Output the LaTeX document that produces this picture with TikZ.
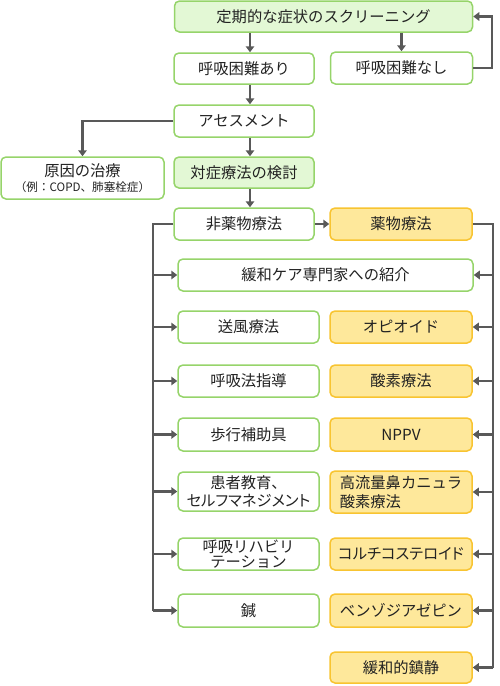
\documentclass[tikz,border=0pt]{standalone}
\usepackage{fontspec}
\setmainfont{Noto Sans CJK JP}
\newfontfamily\paltfont[RawFeature=+palt]{Noto Sans CJK JP}
\usetikzlibrary{arrows.meta,calc}
\definecolor{gborder}{HTML}{96D46A}
\definecolor{gfill}{HTML}{E3F8D5}
\definecolor{yborder}{HTML}{F8C431}
\definecolor{yfill}{HTML}{FEE89B}
\definecolor{arrc}{HTML}{595959}
\definecolor{txt}{HTML}{222222}
\begin{document}
\begin{tikzpicture}[x=1pt,y=-1pt,
 box/.style={draw=gborder, fill=white, line width=1.5pt, rounded corners=5pt, inner sep=0pt, align=center, text=txt, font=\fontsize{15.3}{17.5}\selectfont, minimum height=32pt},
 gbox/.style={box, fill=gfill},
 ybox/.style={box, draw=yborder, fill=yfill},
 lw/.style={minimum width=141pt},
 rw/.style={minimum width=142pt},
 conn/.style={draw=arrc, line width=2.6pt},
 arr/.style={conn, -{Triangle[length=6pt,width=8.5pt]}}]
\useasboundingbox (0,0) rectangle (500,686);
% top part
\node[gbox, minimum width=298pt, minimum height=31pt] (scr) at (323.5,16.5) {定期的な症状のスクリーニング};
\node[box, minimum width=140pt, minimum height=31pt] (ari) at (244,68.5) {呼吸困難あり};
\node[box, rw] (nashi) at (401.5,68) {呼吸困難なし};
\node[box, minimum width=140pt] (asm) at (244,121) {アセスメント};
\node[box, minimum width=163pt, minimum height=42pt] (gen) at (82.5,178) {原因の治療\\[-3pt]{\fontsize{11.6}{13}\selectfont （例：COPD、肺塞栓症）}};
\node[gbox, minimum width=140pt, minimum height=31pt] (tai) at (244,172.5) {対症療法の検討};
\node[box, minimum width=140pt] (hiy) at (244,224) {非薬物療法};
\node[ybox, rw] (yak) at (401,224) {薬物療法};
% rows
\node[box, minimum width=295pt] (kanwa) at (325.5,275) {緩和ケア専門家への紹介};
\node[box, lw] (soufu) at (248.5,327) {送風療法};
\node[ybox, rw] (opi) at (401,327) {オピオイド};
\node[box, lw] (kokyu) at (248.5,381) {呼吸法指導};
\node[ybox, rw] (sanso) at (401,381) {酸素療法};
\node[box, lw, minimum height=33pt] (hoko) at (248.5,434.5) {歩行補助具};
\node[ybox, rw, minimum height=33pt] (nppv) at (401,434.5) {NPPV};
\node[box, lw, minimum height=39pt] (kanja) at (248.5,491.5) {患者教育、\\{\paltfont セルフマネジメント}};
\node[ybox, rw, minimum height=42pt, align=left] (koryu) at (401,492) {高流量鼻カニュラ\\[1pt]酸素療法};
\node[box, lw] (riha) at (248.5,554) {呼吸リハビリ\\[-2pt]テーション};
\node[ybox, rw] (cort) at (401,554) {\paltfont コルチコステロイド};
\node[box, lw, minimum height=33pt] (hari) at (248.5,610.5) {鍼};
\node[ybox, rw, minimum height=33pt] (benzo) at (401,610.5) {ベンゾジアゼピン};
\node[ybox, rw, minimum height=31pt] (chinsei) at (401,667.5) {緩和的鎮静};
% helper coordinates
\coordinate (cx) at (250,0);
\coordinate (nx) at (401.5,0);
\coordinate (loop) at (492,0);
\coordinate (lb) at (153,0);
\coordinate (rb) at (493,0);
% connectors
\draw[arr] (scr.south -| cx) -- (ari.north -| cx);
\draw[arr] (scr.south -| nx) -- (nashi.north -| nx);
\draw[arr] (nashi.east) -- (loop |- nashi.east) -- (loop |- scr.east) -- (scr.east);
\draw[arr] (ari.south -| cx) -- (asm.north -| cx);
\draw[arr] (asm.west) -| (gen.north);
\draw[arr] (asm.south -| cx) -- (tai.north -| cx);
\draw[arr] (tai.south -| cx) -- (hiy.north -| cx);
\draw[arr] (hiy.east) -- (yak.west);
% left bus
\draw[conn] (hiy.west) -- (lb |- hiy.west) -- (lb |- hari.west);
\foreach \n in {kanwa,soufu,kokyu,hoko,kanja,riha,hari}
  \draw[arr] (lb |- \n.west) -- (\n.west);
% right bus
\draw[conn] (yak.east) -- (rb |- yak.east) -- (rb |- chinsei.east);
\foreach \n in {kanwa,opi,sanso,nppv,koryu,cort,benzo,chinsei}
  \draw[arr] (rb |- \n.east) -- (\n.east);
\end{tikzpicture}
\end{document}
